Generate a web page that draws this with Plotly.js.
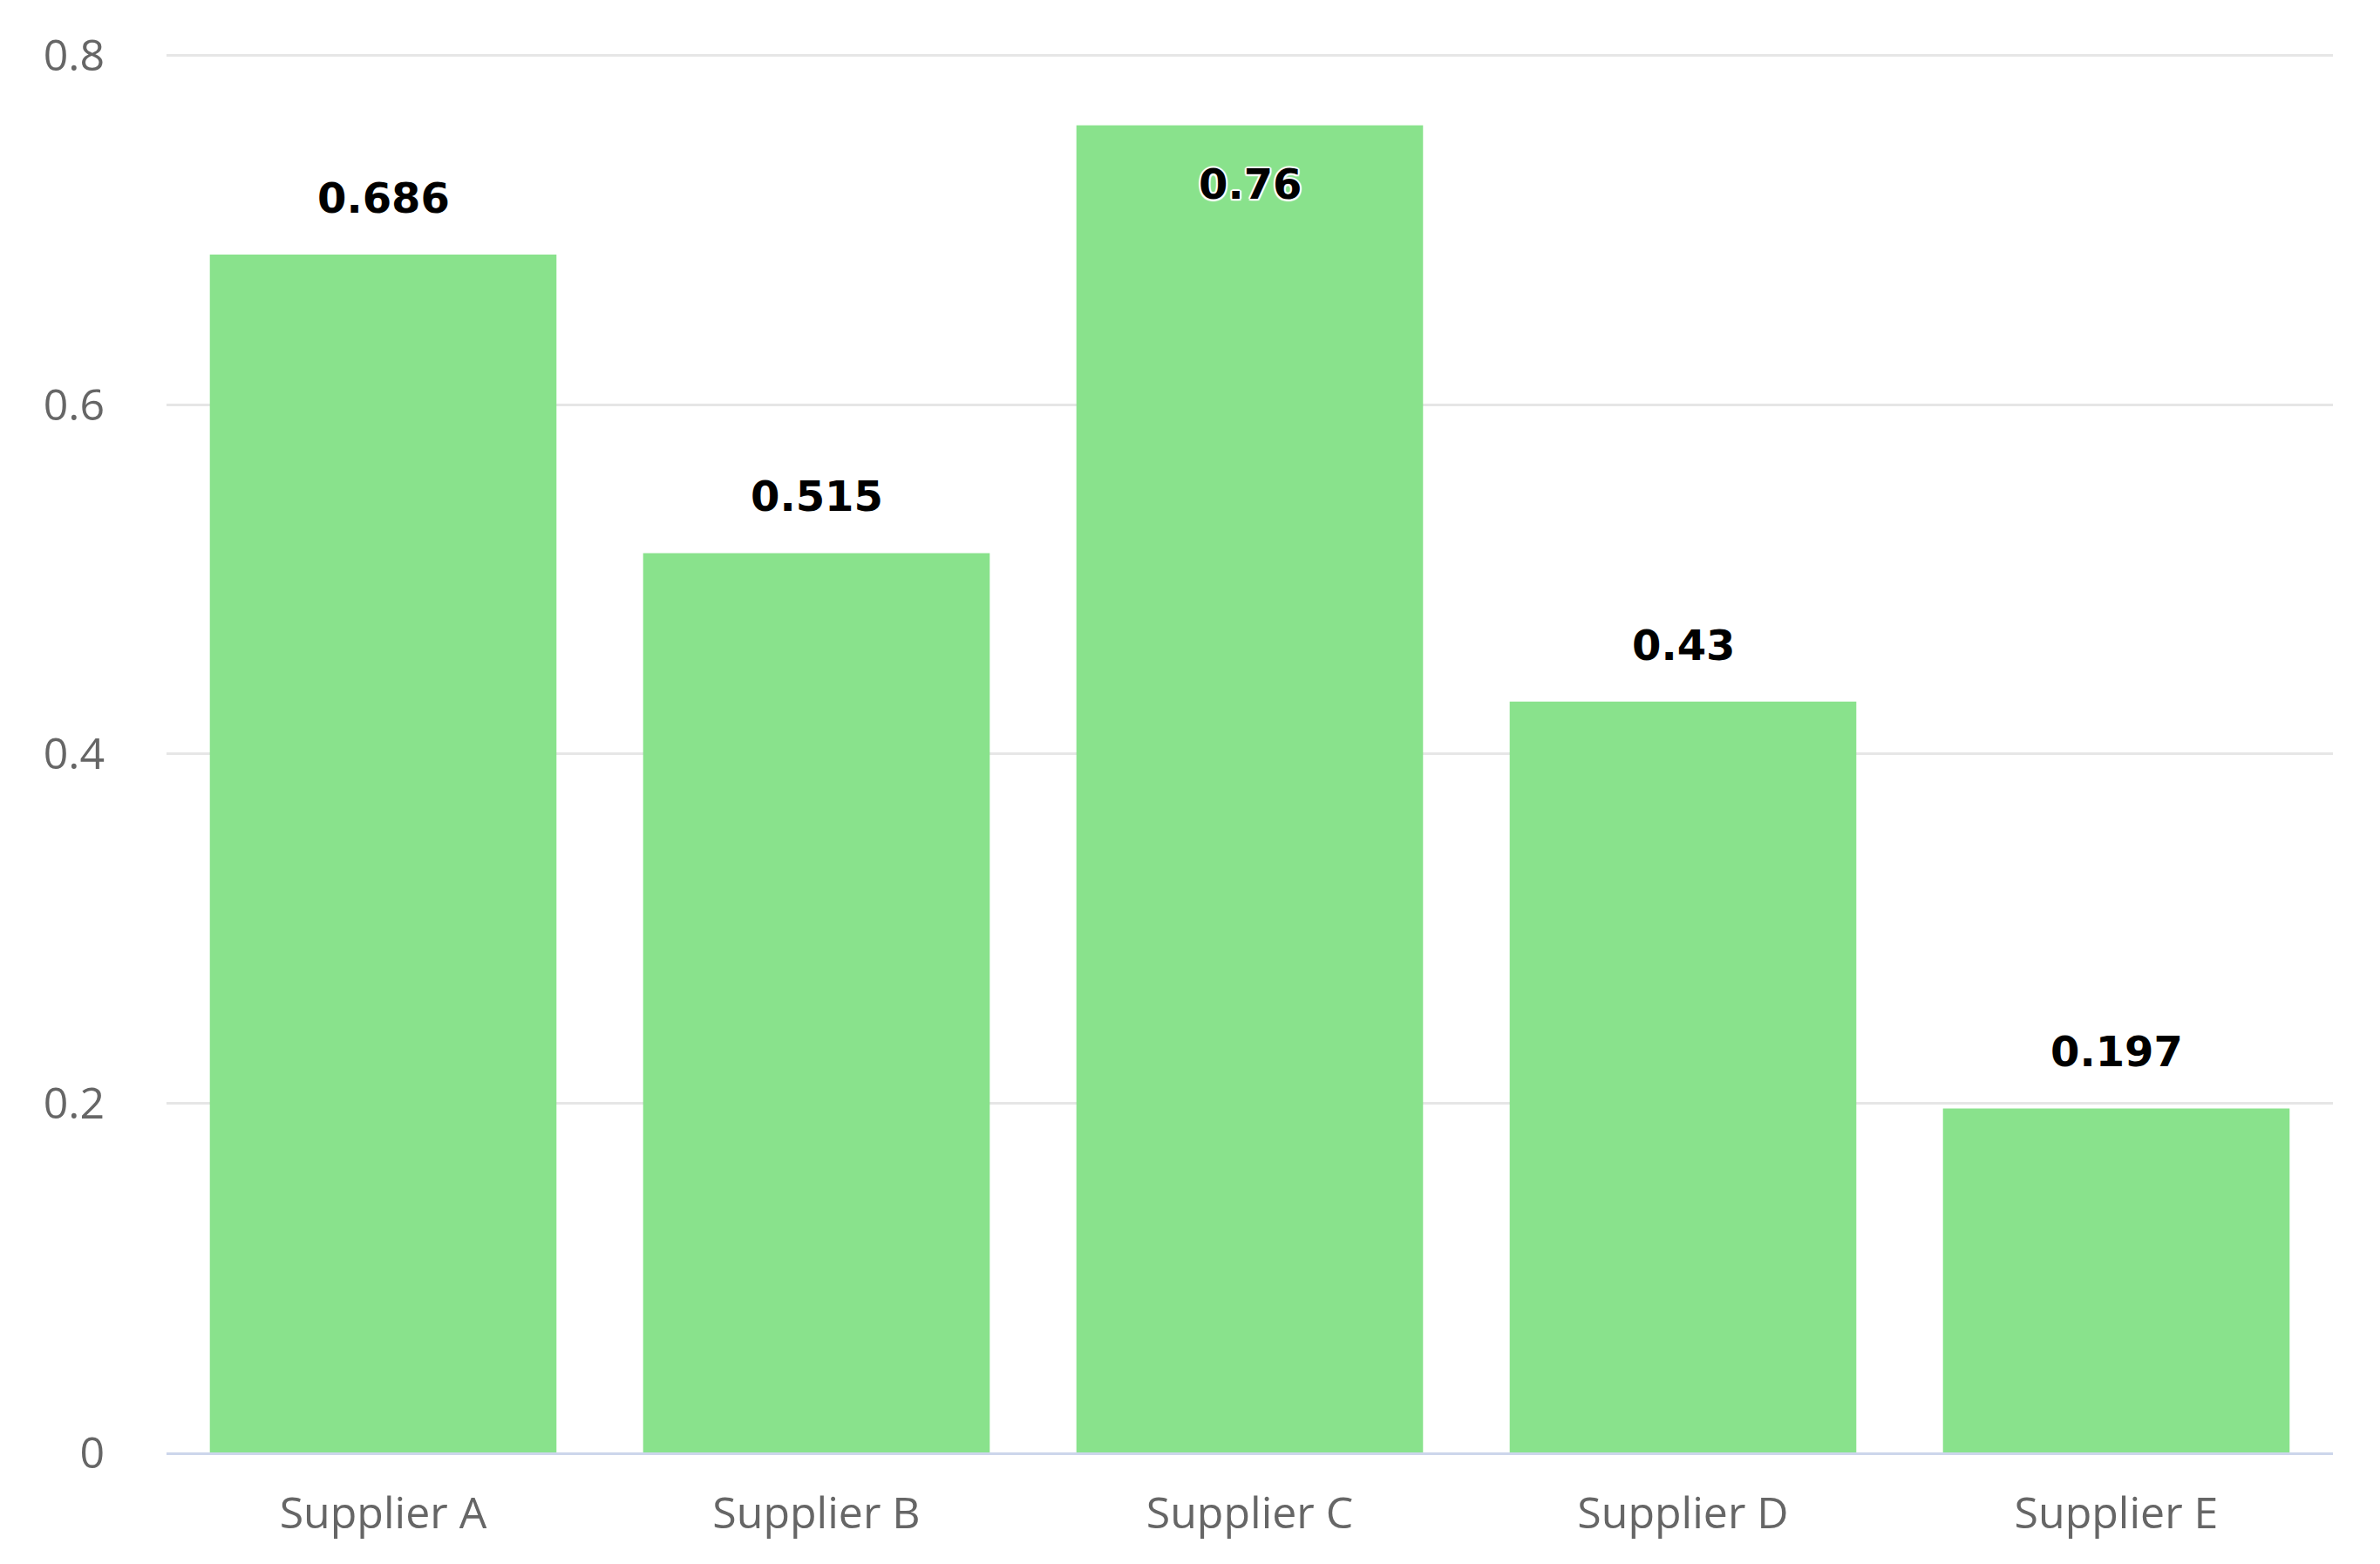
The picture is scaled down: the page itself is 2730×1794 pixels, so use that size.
<!DOCTYPE html>
<html>
<head>
<meta charset="utf-8">
<script src="https://cdn.plot.ly/plotly-3.0.1.min.js"></script>
<style>html,body{margin:0;padding:0;background:#fff;}#chart{width:2730px;height:1794px;}</style>
</head>
<body>
<div id="chart"></div>
<script>
const categories = ["Supplier A", "Supplier B", "Supplier C", "Supplier D", "Supplier E"];
const values = [0.686, 0.515, 0.76, 0.43, 0.197];
const labelInside = [false, false, true, false, false];
const yTickValues = [0, 0.2, 0.4, 0.6, 0.8];
const yTickLabels = ["0", "0.2", "0.4", "0.6", "0.8"];

const outline = "2px 0 1px #fff, -2px 0 1px #fff, 0 2px 1px #fff, 0 -2px 1px #fff, 1.5px 1.5px 1px #fff, -1.5px -1.5px 1px #fff, 1.5px -1.5px 1px #fff, -1.5px 1.5px 1px #fff";

const trace = {
  type: "bar",
  x: categories,
  y: values,
  marker: {color: "#89e28c", line: {width: 0}},
  hoverinfo: "x+y"
};

const annotations = categories.map((c, i) => ({
  x: c,
  y: values[i],
  xref: "x",
  yref: "y",
  text: String(values[i]),
  showarrow: false,
  yanchor: labelInside[i] ? "top" : "bottom",
  yshift: labelInside[i] ? -37 : 35,
  font: {family: "DejaVu Sans", size: 48, color: "#000000", weight: 700, shadow: outline}
}));

const layout = {
  width: 2730,
  height: 1794,
  margin: {l: 191, r: 54, t: 62, b: 128},
  paper_bgcolor: "#ffffff",
  plot_bgcolor: "#ffffff",
  bargap: 0.2,
  showlegend: false,
  xaxis: {
    type: "category",
    showgrid: false,
    showline: true,
    linecolor: "#ccd6eb",
    linewidth: 3,
    ticks: "",
    ticklabelstandoff: 24,
    tickfont: {family: "Open Sans", size: 50, color: "#666666"},
    zeroline: false
  },
  yaxis: {
    range: [0, 0.8008],
    tickvals: yTickValues,
    ticktext: yTickLabels,
    showgrid: true,
    gridcolor: "#e6e6e6",
    gridwidth: 3,
    zeroline: false,
    showline: false,
    ticks: "",
    ticklabelstandoff: 70,
    tickfont: {family: "Open Sans", size: 50, color: "#666666"}
  },
  annotations: annotations
};

Plotly.newPlot("chart", [trace], layout, {displayModeBar: false, staticPlot: true});
</script>
</body>
</html>
